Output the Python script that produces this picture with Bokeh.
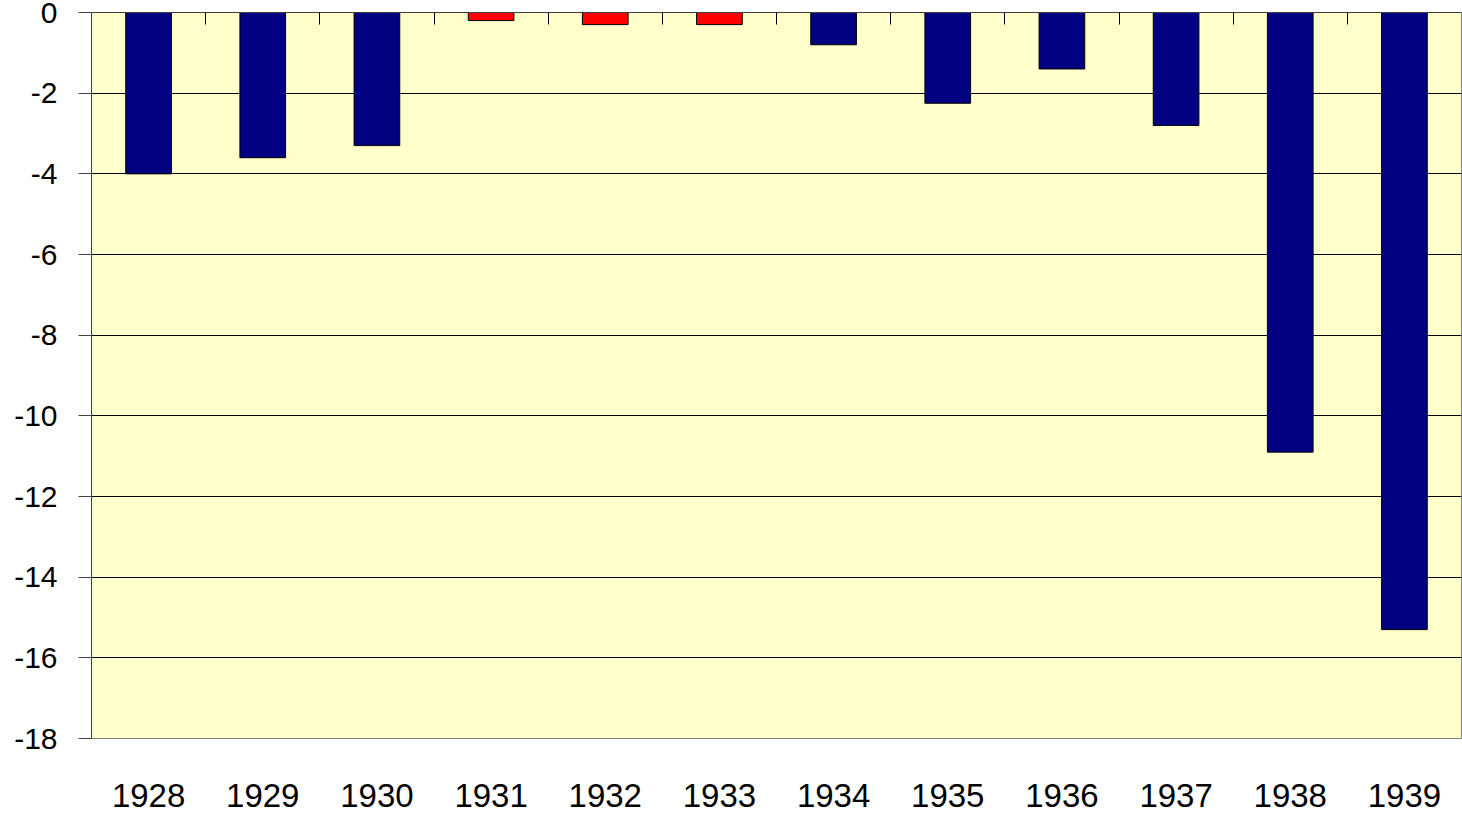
from bokeh.plotting import figure
from bokeh.models import Range1d, LinearAxis, FixedTicker
from bokeh.embed import file_html
from bokeh.resources import INLINE

years = ["1928", "1929", "1930", "1931", "1932", "1933",
         "1934", "1935", "1936", "1937", "1938", "1939"]
values = [-4.0, -3.6, -3.3, -0.2, -0.3, -0.3,
          -0.8, -2.25, -1.4, -2.8, -10.9, -15.3]
red_years = ["1931", "1932", "1933"]
y_ticks = [-18, -16, -14, -12, -10, -8, -6, -4, -2, 0]

n = len(years)
centers = [i + 0.5 for i in range(n)]
colors = ["#FF0000" if y in red_years else "#000080" for y in years]

p = figure(width=1462, height=815, x_range=Range1d(0, n),
           y_range=Range1d(-18, 0), output_backend="svg", toolbar_location=None,
           min_border_left=91, min_border_right=1, min_border_top=12, min_border_bottom=77)

p.background_fill_color = "#FFFFCC"
p.border_fill_color = "white"
p.outline_line_color = "#808080"
p.outline_line_width = 1

p.vbar(x=centers, top=0, bottom=values, width=0.4, fill_color=colors,
       line_color="black", line_width=1)

# y axis
yax = p.yaxis[0]
yax.ticker = FixedTicker(ticks=y_ticks)
yax.major_label_overrides = {t: str(t) for t in y_ticks}
yax.axis_line_color = "#404040"
yax.major_tick_line_color = "#404040"
yax.major_tick_out = 13
yax.major_tick_in = 0
yax.minor_tick_line_color = None
yax.major_label_standoff = 21
yax.major_label_text_font = "Liberation Sans"
yax.major_label_text_font_size = "30px"
yax.major_label_text_color = "black"

p.ygrid.ticker = FixedTicker(ticks=y_ticks)
p.ygrid.grid_line_color = "black"
p.ygrid.grid_line_width = 1
p.xgrid.grid_line_color = None

# x axis (year labels only)
xax = p.xaxis[0]
xax.ticker = FixedTicker(ticks=centers)
xax.major_label_overrides = {c: y for c, y in zip(centers, years)}
xax.axis_line_color = None
xax.major_tick_line_color = None
xax.minor_tick_line_color = None
xax.major_tick_out = 0
xax.major_tick_in = 0
xax.major_label_standoff = 45
xax.major_label_text_font = "Liberation Sans"
xax.major_label_text_font_size = "33px"
xax.major_label_text_color = "black"

# top axis with category-boundary ticks
bounds = list(range(1, n))
top = LinearAxis(ticker=FixedTicker(ticks=bounds))
top.major_label_overrides = {b: "" for b in bounds}
top.axis_line_color = "#404040"
top.major_tick_line_color = "black"
top.major_tick_in = 12
top.major_tick_out = 0
top.minor_tick_line_color = None
top.major_label_text_font_size = "8px"
top.major_label_standoff = 0
p.add_layout(top, "above")

open("out.html", "w").write(file_html(p, INLINE))
